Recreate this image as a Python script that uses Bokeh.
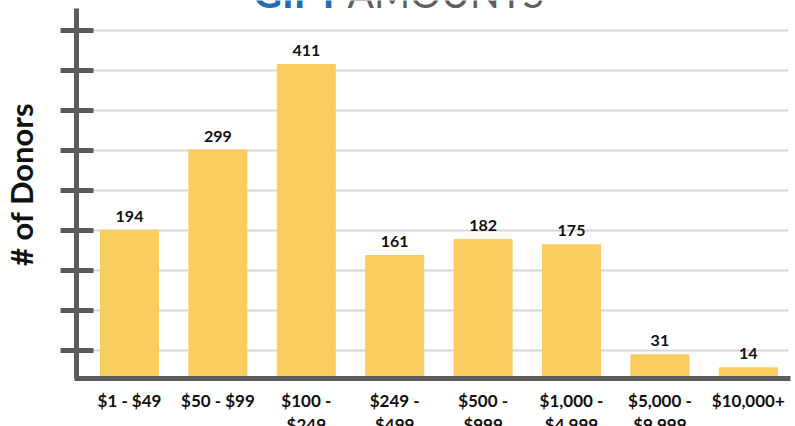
import numpy as np
from bokeh.plotting import figure
from bokeh.models import FixedTicker, ColumnDataSource
from bokeh.core.properties import value
from bokeh.embed import file_html
from bokeh.resources import INLINE

categories = ["$1 - $49", "$50 - $99", "$100 -\n$249", "$249 -\n$499", "$500 -\n$999",
              "$1,000 -\n$4,999", "$5,000 -\n$9,999", "$10,000+"]
donors = [194, 299, 411, 161, 182, 175, 31, 14]
title_bold = "GIFT"
title_light = "AMOUNTS"
y_label = "# of Donors"

FONT = "Lato"
BAR = "#FACD60"
AXIS = "#5b5b5b"
GRID = "#d6d6d6"

# layout constants (pixel geometry -> data units)
W, H = 795, 426
cx0, dx = 129.0, 88.4          # screen x of first category centre, spacing
base_y, k = 378.0, 0.764       # screen y of zero line, px per donor
def sx(px): return (px - cx0) / dx
def sy(py): return (base_y - py) / k

x = list(range(len(categories)))
axis_x = sx(76)
axis_top = sy(8)
tick_first, tick_step = sy(350), 40 / k

src = ColumnDataSource(dict(x=x, top=donors, lab=[str(v) for v in donors]))

p = figure(width=W, height=H, output_backend="svg", toolbar_location=None,
           x_range=(sx(0), sx(W)), y_range=(sy(H), sy(0)),
           min_border_left=0, min_border_right=0, min_border_top=0, min_border_bottom=0)
p.outline_line_color = None
p.background_fill_color = "white"
p.border_fill_color = "white"

p.xgrid.grid_line_color = None
p.ygrid.grid_line_color = GRID
p.ygrid.grid_line_width = 2
p.ygrid.cross_bounds = (axis_x, sx(788))

p.vbar(x="x", top="top", width=0.656, bottom=0, color=BAR, source=src)
p.text(x="x", y="top", text="lab", source=src, text_align="center", text_baseline="alphabetic",
       y_offset=-14, text_font=value(FONT), text_font_style="bold", text_font_size="16px",
       text_color="#111111")

# y axis (fixed inside the frame)
ticks = [tick_first + tick_step * i for i in range(9)]
ya = p.yaxis[0]
ya.fixed_location = axis_x
ya.bounds = (0, axis_top)
ya.ticker = FixedTicker(ticks=ticks)
ya.major_label_overrides = {t: "" for t in ticks}
ya.major_label_text_color = None
ya.axis_line_color = AXIS
ya.axis_line_width = 5
ya.major_tick_line_color = AXIS
ya.major_tick_line_width = 5
ya.major_tick_in = 17
ya.major_tick_out = 16
ya.minor_tick_line_color = None
p.ygrid.ticker = ya.ticker

# x axis (fixed at zero)
xa = p.xaxis[0]
xa.fixed_location = 0
xa.bounds = (sx(74), sx(790))
xa.ticker = FixedTicker(ticks=x)
xa.major_label_overrides = {i: c for i, c in zip(x, categories)}
xa.axis_line_color = AXIS
xa.axis_line_width = 5
xa.major_tick_line_color = None
xa.minor_tick_line_color = None
xa.major_label_text_font = FONT
xa.major_label_text_font_style = "bold"
xa.major_label_text_font_size = "17px"
xa.major_label_text_color = "#111111"
xa.major_label_text_line_height = 1.15
xa.major_label_standoff = 5

# y axis title
p.text(x=[sx(20)], y=[sy(184)], text=[y_label], angle=np.pi / 2, text_align="center",
       text_baseline="middle", text_font=value(FONT), text_font_style="bold",
       text_font_size="31px", text_color="#111111")

# partly visible title at top
p.text(x=[sx(340)], y=[sy(-8)], text=[title_bold], text_align="right", text_baseline="alphabetic",
       text_font=value(FONT), text_font_style="bold", text_font_size="40px", text_color="#1f6eb4")
p.text(x=[sx(347)], y=[sy(-8)], text=[title_light], text_align="left", text_baseline="alphabetic",
       text_font=value(FONT), text_font_size="39px", text_color="#5f5f5f")

open("out.html", "w").write(file_html(p, INLINE))
